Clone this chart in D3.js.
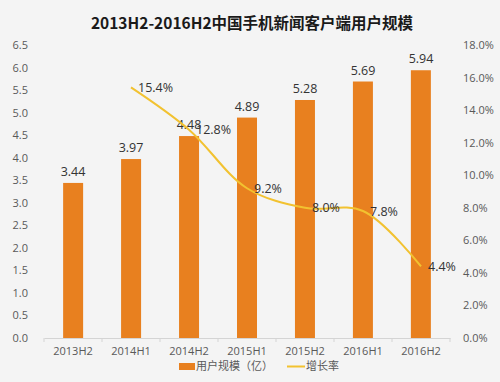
<!DOCTYPE html>
<html><head><meta charset="utf-8">
<script src="https://cdn.jsdelivr.net/npm/d3@7"></script>
<style>
body{margin:0;background:#f4f4f4;}
svg{display:block;font-family:"Noto Sans CJK SC","Open Sans",sans-serif;}
</style></head>
<body><svg id="c" width="500" height="382"></svg>
<script>
const categories = ["2013H2","2014H1","2014H2","2015H1","2015H2","2016H1","2016H2"];
const users = [3.44,3.97,4.48,4.89,5.28,5.69,5.94];
const growth = [null,15.4,12.8,9.2,8.0,7.8,4.4];
const leftTicks = [0,0.5,1,1.5,2,2.5,3,3.5,4,4.5,5,5.5,6,6.5];
const rightTicks = [0,2,4,6,8,10,12,14,16,18];
const title = "2013H2-2016H2中国手机新闻客户端用户规模";
const legendLabels = ["用户规模（亿）","增长率"];

const svg = d3.select("#c");
svg.append("rect").attr("width",500).attr("height",382).attr("fill","#f4f4f4");

const m = {l:44, r:50, t:45, b:44};
const W = 500, H = 382;
const x = d3.scaleBand().domain(categories).range([m.l, W-m.r]).paddingInner(0.655).paddingOuter(0.33);
const xb = d3.scaleBand().domain(categories).range([m.l, W-m.r]);
const y = d3.scaleLinear().domain([0,6.5]).range([H-m.b, m.t]);
const y2 = d3.scaleLinear().domain([0,18]).range([H-m.b, m.t]);

svg.append("text").attr("x",252).attr("y",29).attr("text-anchor","middle")
  .attr("font-size",15.5).attr("font-weight","bold").attr("fill","#1a1a1a").text(title);

// left axis
const la = svg.append("g").attr("transform",`translate(${m.l-13},0)`)
  .call(d3.axisLeft(y).tickValues(leftTicks).tickFormat(d3.format(".1f")).tickSize(0));
la.select(".domain").remove();
la.selectAll("text").attr("font-size",11).attr("fill","#595959").attr("font-family","'Open Sans',sans-serif");

// right axis
const ra = svg.append("g").attr("transform",`translate(${W-m.r+10},0)`)
  .call(d3.axisRight(y2).tickValues(rightTicks).tickFormat(d=>d.toFixed(1)+"%").tickSize(0));
ra.select(".domain").remove();
ra.selectAll("text").attr("font-size",11).attr("fill","#595959").attr("font-family","'Open Sans',sans-serif");

// x axis
const xa = svg.append("g").attr("transform",`translate(0,${H-m.b})`)
  .call(d3.axisBottom(xb).tickSize(0).tickPadding(9));
xa.select(".domain").attr("stroke","#d4d4d4");
xa.selectAll("text").attr("font-size",11).attr("fill","#595959").attr("font-family","'Open Sans',sans-serif");
const bounds = categories.map(c=>xb(c)).concat([xb(categories[categories.length-1])+xb.bandwidth()]);
xa.selectAll(".bt").data(bounds).join("line").attr("class","bt")
  .attr("x1",d=>d).attr("x2",d=>d).attr("y1",0).attr("y2",4).attr("stroke","#d4d4d4");

// bars
svg.selectAll(".bar").data(users).join("rect").attr("class","bar")
  .attr("x",(d,i)=>x(categories[i])).attr("width",x.bandwidth())
  .attr("y",d=>y(d)).attr("height",d=>y(0)-y(d)).attr("fill","#e8801f");
svg.selectAll(".bl").data(users).join("text").attr("class","bl")
  .attr("x",(d,i)=>xb(categories[i])+xb.bandwidth()/2).attr("y",d=>y(d)-7)
  .attr("text-anchor","middle").attr("font-size",12.5).attr("fill","#333")
  .attr("font-family","'Open Sans',sans-serif").text(d=>d.toFixed(2));

// line
const pts = growth.map((g,i)=>({c:categories[i],g})).filter(d=>d.g!==null);
const line = d3.line().x(d=>xb(d.c)+xb.bandwidth()/2).y(d=>y2(d.g)).curve(d3.curveCatmullRom.alpha(0.5));
svg.append("path").datum(pts).attr("d",line).attr("fill","none").attr("stroke","#f2c230").attr("stroke-width",2);
svg.selectAll(".gl").data(pts).join("text").attr("class","gl")
  .attr("x",d=>xb(d.c)+xb.bandwidth()/2+7).attr("y",d=>y2(d.g)+4.5)
  .attr("font-size",12.5).attr("fill","#333").attr("font-family","'Open Sans',sans-serif")
  .text(d=>d.g.toFixed(1)+"%");

// legend
const lg = svg.append("g").attr("transform","translate(0,366)");
lg.append("rect").attr("x",179).attr("y",-3).attr("width",16).attr("height",7).attr("fill","#e8801f");
lg.append("text").attr("x",196).attr("y",4).attr("font-size",11).attr("fill","#595959").text(legendLabels[0]);
lg.append("line").attr("x1",287).attr("x2",305).attr("y1",0.5).attr("y2",0.5).attr("stroke","#f2c230").attr("stroke-width",2);
lg.append("text").attr("x",306).attr("y",4).attr("font-size",11).attr("fill","#595959").text(legendLabels[1]);
</script></body></html>
